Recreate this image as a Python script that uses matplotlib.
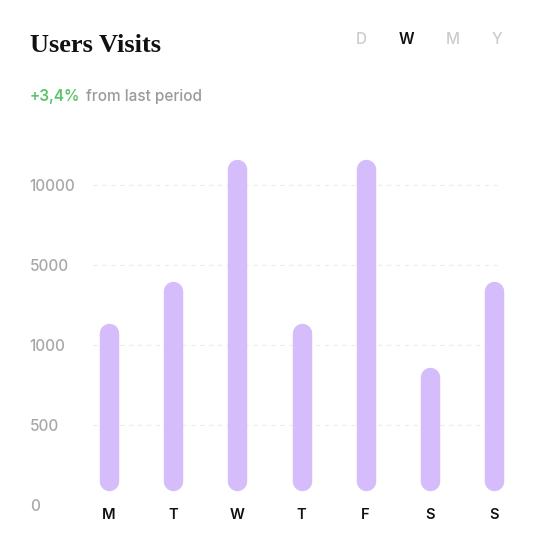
import numpy as np
import matplotlib.pyplot as plt

days = ["M", "T", "W", "T", "F", "S", "S"]
visits = [1600, 3700, 11000, 1600, 11000, 800, 3700]
y_ticks = [0, 500, 1000, 5000, 10000]
periods = ["D", "W", "M", "Y"]
active_period = "W"
change = "+3,4%"

# the axis puts every tick at the same distance, whatever its value
tick_pos = [0, 1, 2, 3, 4, 5]
tick_val = y_ticks + [15000]

def forward(v):
    return np.interp(v, tick_val, tick_pos)

def inverse(p):
    return np.interp(p, tick_pos, tick_val)

W, H = 534, 552
fig = plt.figure(figsize=(W / 100, H / 100), dpi=100)
ax = fig.add_axes([77 / W, (H - 505) / H, (526 - 77) / W, (505 - 151) / H])
ax.set_yscale("function", functions=(forward, inverse))
ax.set_ylim(0, 12125)
ax.set_xlim(-0.5, 6.5)

x = np.arange(len(days))
base = 150
ax.hlines(y_ticks, -0.25, 6.1, colors="#ececec", linestyles=(0, (4, 4)), linewidth=0.8, zorder=0)
ax.vlines(x, base, visits, colors="#d5bcfb", linewidth=14, capstyle="round", zorder=3)

ax.set_yticks(y_ticks)
ax.set_yticklabels([str(v) for v in y_ticks], family="Inter", fontsize=11,
                   fontweight="medium", color="#a8a8a8")
for lab in ax.get_yticklabels():
    lab.set_horizontalalignment("left")
ax.tick_params(axis="y", length=0, pad=34)
ax.set_xticks(x)
ax.set_xticklabels(days, family="Inter", fontsize=10.5, fontweight="semibold", color="#111111")
ax.tick_params(axis="x", length=0, pad=2)
for s in ax.spines.values():
    s.set_visible(False)

fig.text(30 / W, 1 - 46 / H, "Users Visits", family="Liberation Serif", fontsize=19,
         fontweight="bold", color="#111111", va="center", ha="left")
fig.text(30 / W, 1 - 96 / H, change, family="Inter", fontsize=11, fontweight="semibold",
         color="#5cc46a", va="center", ha="left")
fig.text(86 / W, 1 - 96 / H, "from last period", family="Inter", fontsize=11,
         fontweight="medium", color="#9a9a9a", va="center", ha="left")

for px, p in zip([361, 406, 453, 497], periods):
    fig.text(px / W, 1 - 40 / H, p, family="Inter", fontsize=11,
             fontweight="semibold" if p == active_period else "medium",
             color="#111111" if p == active_period else "#cccccc", ha="center", va="center")

fig.savefig("out.png", dpi=100)
